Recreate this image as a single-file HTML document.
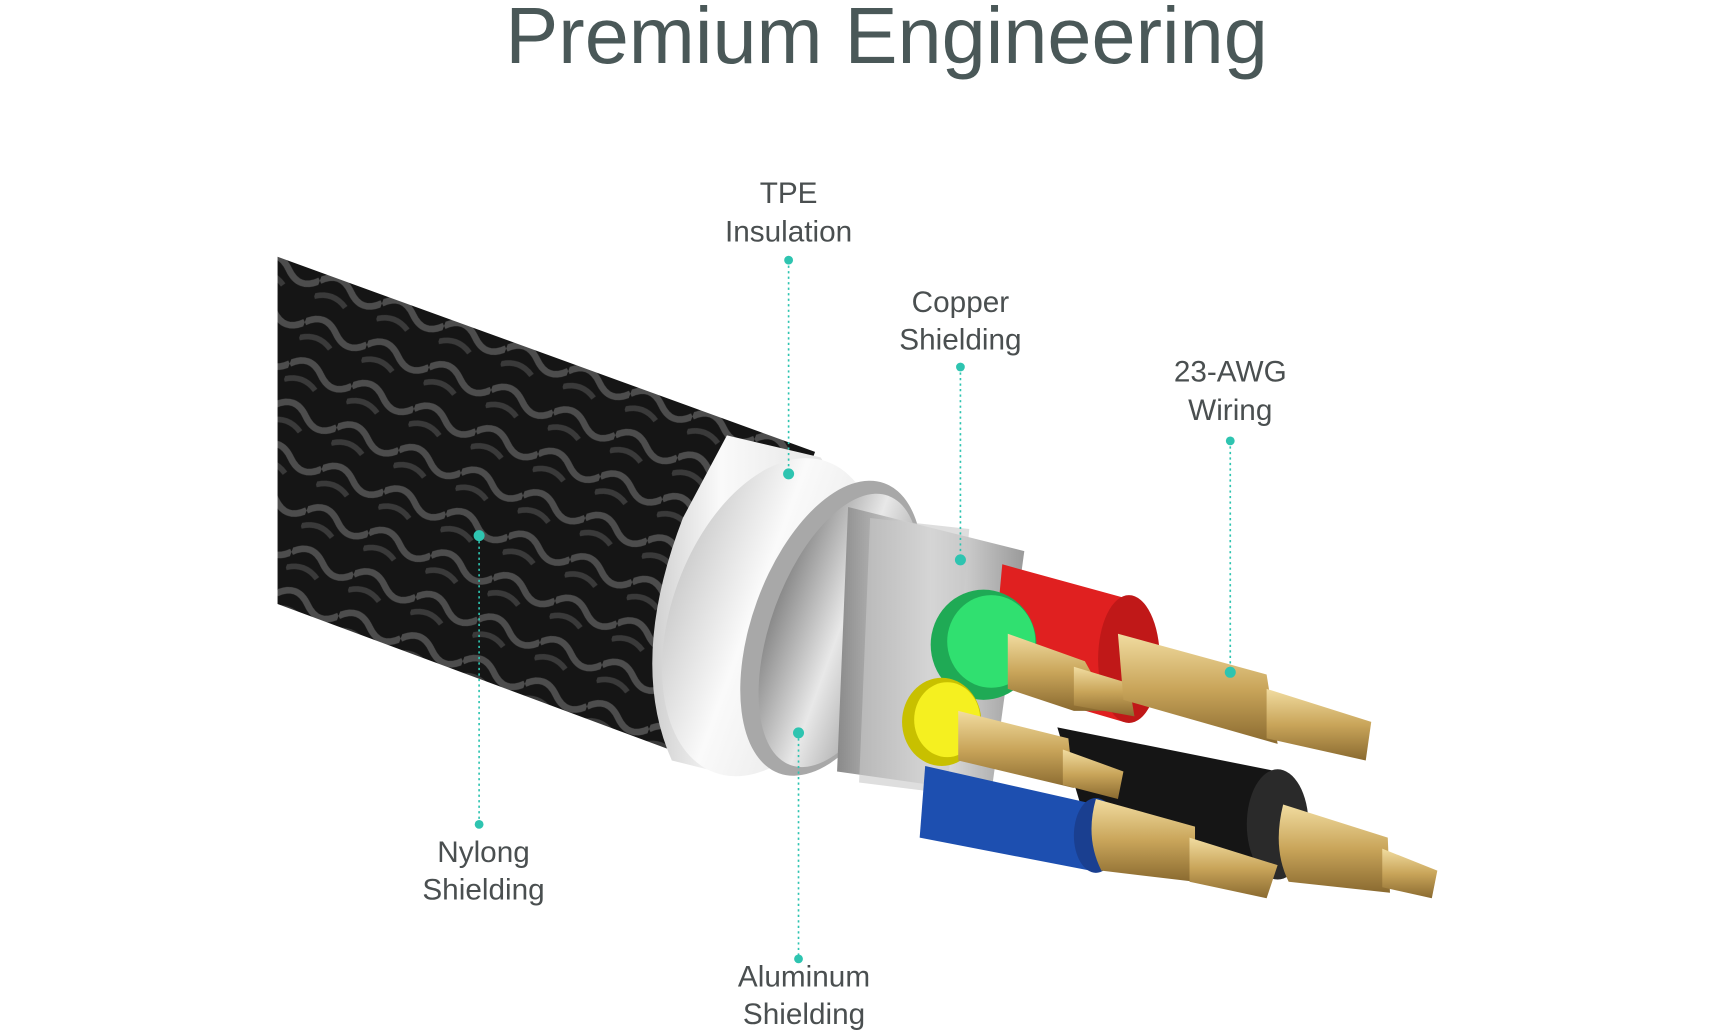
<!DOCTYPE html>
<html><head><style>
html,body{margin:0;padding:0;background:#fff;width:1727px;height:1036px;overflow:hidden}
svg{display:block}
text{font-family:"Liberation Sans",sans-serif;fill:#4a4f50}
</style></head><body>
<svg width="1727" height="1036" viewBox="0 0 1568 940" preserveAspectRatio="none" xmlns="http://www.w3.org/2000/svg">
<defs>
<pattern id="braid" width="60" height="40" patternUnits="userSpaceOnUse" patternTransform="rotate(20)">
<rect width="60" height="40" fill="#151515"/>
<path d="M0 20 Q15 5 30 20 Q45 35 60 20" stroke="#666" stroke-width="6" fill="none" opacity="0.7"/>
<path d="M0 35 Q15 25 30 35" stroke="#3a3a3a" stroke-width="5" fill="none"/>
</pattern>
<linearGradient id="white" x1="0" y1="0" x2="1" y2="0"><stop offset="0" stop-color="#cfcfcf"/><stop offset="0.4" stop-color="#fafafa"/><stop offset="1" stop-color="#e6e6e6"/></linearGradient>
<linearGradient id="alu" x1="0" y1="0" x2="1" y2="0"><stop offset="0" stop-color="#8a8a8a"/><stop offset="0.5" stop-color="#e8e8e8"/><stop offset="1" stop-color="#9a9a9a"/></linearGradient>
<linearGradient id="gold" x1="0" y1="0" x2="0" y2="1"><stop offset="0" stop-color="#f1dca0"/><stop offset="0.5" stop-color="#c9a55a"/><stop offset="1" stop-color="#8a6a30"/></linearGradient>
</defs>
<rect width="1568" height="940" fill="#fff"/>
<text x="805" y="57" font-size="72" text-anchor="middle" style="fill:#4a5858">Premium Engineering</text>

<path d="M252 233 L740 410 L640 692 L252 548 Z" fill="url(#braid)"/>
<path d="M660 395 L745 415 Q760 430 690 560 Q640 660 650 700 L610 690 Q570 600 620 470 Z" fill="url(#white)"/>
<ellipse cx="700" cy="560" rx="90" ry="150" transform="rotate(20 700 560)" fill="url(#white)"/>
<ellipse cx="755" cy="570" rx="72" ry="140" transform="rotate(20 755 570)" fill="#a8a8a8"/>
<ellipse cx="762" cy="572" rx="62" ry="130" transform="rotate(20 762 572)" fill="url(#alu)"/>
<path d="M770 460 L930 500 L900 720 L760 700 Z" fill="url(#alu)"/>
<path d="M790 470 L880 480 L860 720 L780 710 Z" fill="#c8c8c8" opacity="0.6"/>

<path d="M960 660 L1160 700 Q1200 740 1160 795 L990 760 Z" fill="#151515"/>
<ellipse cx="1160" cy="748" rx="28" ry="50" fill="#2a2a2a"/>
<path d="M910 512 L1030 545 Q1060 600 1020 655 L900 620 Z" fill="#e02020"/>
<ellipse cx="1025" cy="598" rx="28" ry="58" fill="#c01818"/>
<path d="M840 695 L995 730 Q1010 770 990 790 L835 760 Z" fill="#1d4fb0"/>
<ellipse cx="995" cy="758" rx="20" ry="34" fill="#1a3f90"/>
<ellipse cx="893" cy="585" rx="48" ry="50" fill="#1faa55"/>
<ellipse cx="900" cy="582" rx="40" ry="42" fill="#30e070"/>
<ellipse cx="855" cy="655" rx="36" ry="40" fill="#c8c000"/>
<ellipse cx="860" cy="653" rx="30" ry="34" fill="#f5f020"/>

<g fill="url(#gold)">
<path d="M915 575 L985 600 L1010 645 L975 645 L915 625 Z"/>
<path d="M975 605 L1025 620 L1030 650 L975 640 Z"/>
<path d="M1015 575 L1150 612 L1160 675 L1020 635 Z"/>
<path d="M1150 625 L1245 655 L1240 690 L1150 670 Z"/>
<path d="M870 645 L970 670 L975 715 L870 690 Z"/>
<path d="M965 680 L1020 700 L1015 725 L965 712 Z"/>
<path d="M995 725 L1085 750 L1085 800 L1000 790 Q985 760 995 725 Z"/>
<path d="M1080 760 L1160 785 L1150 815 L1080 800 Z"/>
<path d="M1165 730 L1260 760 L1262 810 L1170 800 Q1155 770 1165 730 Z"/>
<path d="M1255 770 L1305 790 L1300 815 L1255 805 Z"/>
</g>

<g stroke="#2ec4b0" stroke-width="1.5" stroke-dasharray="2 3" fill="none">
<line x1="716" y1="236" x2="716" y2="430"/>
<line x1="872" y1="333" x2="872" y2="508"/>
<line x1="1117" y1="400" x2="1117" y2="610"/>
<line x1="435" y1="486" x2="435" y2="748"/>
<line x1="725" y1="665" x2="725" y2="870"/>
</g>
<g fill="#2ec4b0">
<circle cx="716" cy="236" r="4"/><circle cx="716" cy="430" r="5"/>
<circle cx="872" cy="333" r="4"/><circle cx="872" cy="508" r="5"/>
<circle cx="1117" cy="400" r="4"/><circle cx="1117" cy="610" r="5"/>
<circle cx="435" cy="486" r="5"/><circle cx="435" cy="748" r="4"/>
<circle cx="725" cy="665" r="5"/><circle cx="725" cy="870" r="4"/>
</g>

<g font-size="27" text-anchor="middle">
<text x="716" y="184">TPE</text><text x="716" y="219">Insulation</text>
<text x="872" y="283">Copper</text><text x="872" y="317">Shielding</text>
<text x="1117" y="346">23-AWG</text><text x="1117" y="381">Wiring</text>
<text x="439" y="782">Nylong</text><text x="439" y="816">Shielding</text>
<text x="730" y="895">Aluminum</text><text x="730" y="929">Shielding</text>
</g>
</svg>
</body></html>
